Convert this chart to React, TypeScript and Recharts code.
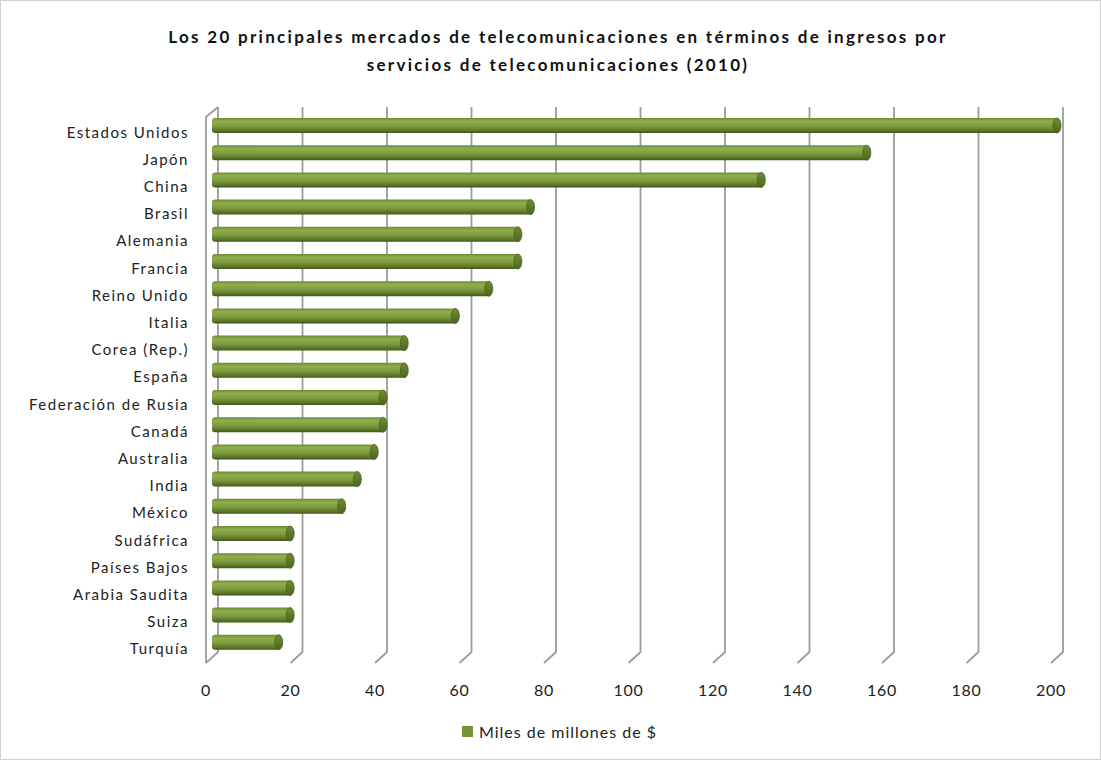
import React from 'react';
import { BarChart, Bar, XAxis, YAxis, CartesianGrid, Legend } from 'recharts';

// Categories (top to bottom) and revenue values (thousand millions of $)
const countries = [
  'Estados Unidos', 'Japón', 'China', 'Brasil', 'Alemania', 'Francia', 'Reino Unido',
  'Italia', 'Corea (Rep.)', 'España', 'Federación de Rusia', 'Canadá', 'Australia',
  'India', 'México', 'Sudáfrica', 'Países Bajos', 'Arabia Saudita', 'Suiza', 'Turquía',
];
const revenues = [
  200, 155, 130, 75.4, 72.4, 72.4, 65.5, 57.6, 45.5, 45.5, 40.5, 40.5, 38.4, 34.4,
  30.7, 18.5, 18.5, 18.5, 18.5, 15.8,
];
const xTicks = [0, 20, 40, 60, 80, 100, 120, 140, 160, 180, 200];
const seriesName = 'Miles de millones de $';

const data = countries.map((name, i) => ({ name, value: revenues[i] }));

const FONT = 'Lato, "Open Sans", sans-serif';
const GREEN = '#77933c';

// 3D-looking cylinder bar
const CylinderBar = (props: any) => {
  const { x, y, width, height } = props;
  if (width <= 0) return null;
  const ry = height / 2;
  const cx = x + width;
  return (
    <g>
      <path
        d={`M${x + 3},${y} L${cx},${y} L${cx},${y + height} L${x + 3},${y + height} Q${x},${y + height} ${x},${y + height - 3} L${x},${y + 3} Q${x},${y} ${x + 3},${y} Z`}
        fill="url(#cyl)"
      />
      <ellipse cx={cx} cy={y + ry} rx={4} ry={ry} fill="url(#cap)" stroke="#4a6220" strokeWidth={0.8} />
    </g>
  );
};

// slanted 3D gridlines
const GridLine = (props: any) => {
  const { x1, offset } = props;
  const xb = x1 + 6;
  const isFirst = offset && Math.abs(x1 - offset.left) < 1;
  return (
    <g>
      <path d={`M${xb},107 L${xb},652 L${x1 - 6},663`} stroke="#9c9c9c" strokeWidth={1.8} fill="none" />
      {isFirst && (
        <path d={`M${x1 - 6},663 L${x1 - 6},117 L${xb},107`} stroke="#9c9c9c" strokeWidth={1.8} fill="none" />
      )}
    </g>
  );
};

const YTick = (props: any) => {
  const { y, payload } = props;
  return (
    <text
      x={189}
      y={y + 6}
      textAnchor="end"
      dominantBaseline="central"
      fontSize={15}
      fill="#222"
      fontFamily={FONT}
      style={{ letterSpacing: '1.5px' }}
    >
      {payload.value}
    </text>
  );
};

const XTick = (props: any) => {
  const { x, y, payload } = props;
  return (
    <text
      x={x - 6}
      y={y + 33}
      textAnchor="middle"
      dominantBaseline="central"
      fontSize={16}
      fill="#222"
      fontFamily={FONT}
      style={{ letterSpacing: '0.8px' }}
    >
      {payload.value}
    </text>
  );
};

const LegendContent = () => (
  <div
    style={{
      display: 'flex', justifyContent: 'center', alignItems: 'center',
      fontFamily: FONT, fontSize: 16, color: '#222', letterSpacing: '1px',
    }}
  >
    <span style={{ width: 11, height: 11, background: GREEN, display: 'inline-block', marginRight: 6 }} />
    <span>{seriesName}</span>
  </div>
);

export default function App() {
  return (
    <div
      style={{
        position: 'absolute', left: 0, top: 0, width: 1101, height: 760,
        boxSizing: 'border-box', border: '1px solid #d0d0d0', background: '#fff',
      }}
    >
      <div
        style={{
          position: 'absolute', top: 22, left: 0, width: 1114, textAlign: 'center',
          fontFamily: FONT, fontWeight: 700, fontSize: 17, lineHeight: '28px', color: '#111',
          letterSpacing: '2.3px',
        }}
      >
        Los 20 principales mercados de telecomunicaciones en términos de ingresos por
        <br />
        servicios de telecomunicaciones (2010)
      </div>
      <div style={{ position: 'absolute', left: -1, top: -1 }}>
        <BarChart
          width={1101}
          height={760}
          data={data}
          layout="vertical"
          margin={{ top: 112, right: 44, bottom: 34, left: 12 }}
          barCategoryGap={12}
        >
          <defs>
            <linearGradient id="cyl" x1="0" y1="0" x2="0" y2="1">
              <stop offset="0%" stopColor="#6c8a33" />
              <stop offset="22%" stopColor="#8fae4c" />
              <stop offset="55%" stopColor="#7e9c3e" />
              <stop offset="85%" stopColor="#5a7628" />
              <stop offset="100%" stopColor="#3e531a" />
            </linearGradient>
            <linearGradient id="cap" x1="0" y1="0" x2="0" y2="1">
              <stop offset="0%" stopColor="#6f8d35" />
              <stop offset="100%" stopColor="#4b6520" />
            </linearGradient>
          </defs>
          <CartesianGrid horizontal={false} vertical={(p: any) => <GridLine key={p.key} {...p} />} />
          <XAxis
            type="number"
            domain={[0, 200]}
            ticks={xTicks}
            axisLine={false}
            tickLine={false}
            tickSize={0}
            tickMargin={0}
            height={30}
            tick={<XTick />}
            interval={0}
          />
          <YAxis
            type="category"
            dataKey="name"
            width={200}
            axisLine={false}
            tickLine={false}
            tickSize={0}
            tickMargin={0}
            tick={<YTick />}
            interval={0}
          />
          <Legend
            verticalAlign="bottom"
            height={40}
            content={<LegendContent />}
            wrapperStyle={{ top: 722, bottom: 'auto', left: 9, width: 1101 }}
          />
          <Bar dataKey="value" name={seriesName} fill={GREEN} barSize={15} shape={<CylinderBar />} isAnimationActive={false} />
        </BarChart>
      </div>
    </div>
  );
}
